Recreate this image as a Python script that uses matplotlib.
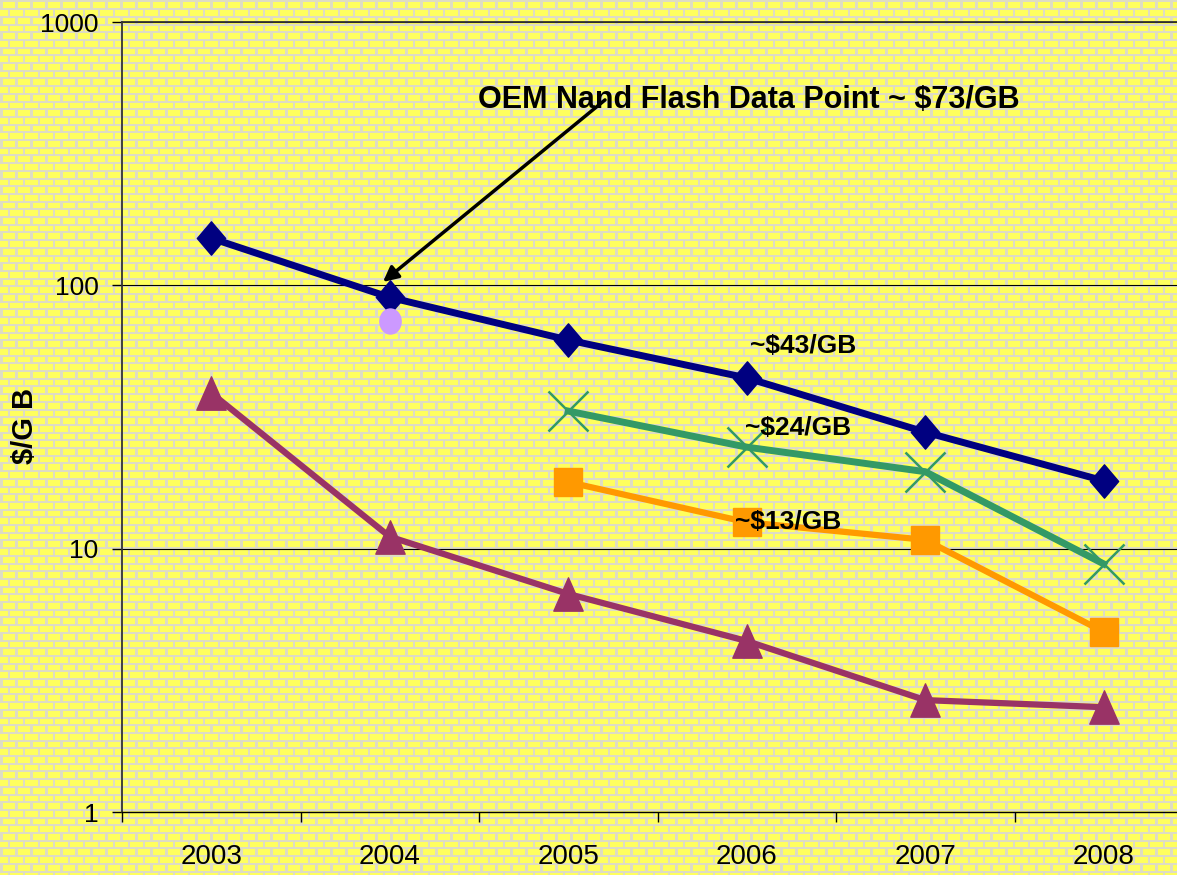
# Flash $/GB price trend chart, log scale, brick background.
import numpy as np
import matplotlib
matplotlib.use('Agg')
import matplotlib.pyplot as plt
from matplotlib.path import Path
from matplotlib.transforms import Affine2D

plt.rcParams['font.family'] = ['Liberation Sans', 'DejaVu Sans']

years = ['2003', '2004', '2005', '2006', '2007', '2008']
navy_vals = [151, 90, 62, 44.5, 27.7, 18.1]
green_vals = [None, None, 33.3, 24.3, 19.6, 8.75]
orange_vals = [None, None, 17.9, 12.6, 10.8, 4.83]
purple_vals = [39, 11.1, 6.73, 4.46, 2.66, 2.50]
oem_year = '2004'
oem_val = 73

y_ticks = [1, 10, 100, 1000]
y_ticklabels = ['1', '10', '100', '1000']

W, H, DPI = 1177, 875, 100


def brick_bg(w, h):
    # yellow bricks with grey mortar
    img = np.empty((h, w, 3))
    mortar = np.array([222, 220, 196]) / 255
    brick = np.array([255, 255, 94]) / 255
    img[:] = mortar
    rp, cp = 7.7, 15.0
    yy, xx = np.mgrid[0:h, 0:w]
    row = np.floor(yy / rp).astype(int)
    fy = yy - row * rp
    xs = xx + (row % 2) * cp / 2
    fx = xs - np.floor(xs / cp) * cp
    mask = (fy >= 2.0) & (fx >= 2.5)
    img[mask] = brick
    return img


fig = plt.figure(figsize=(W / DPI, H / DPI), dpi=DPI)
fig.figimage(brick_bg(W, H), xo=0, yo=0, origin='upper', zorder=0)

ax = fig.add_axes([122 / W, 1 - 812 / H, (1193 - 122) / W, (812 - 22) / H])
ax.set_zorder(2)
ax.set_facecolor('none')
ax.set_yscale('log')
ax.set_ylim(1, 1000)
ax.set_xlim(-0.5, len(years) - 0.5)

x = np.arange(len(years))


def series(vals):
    xs = [i for i, v in enumerate(vals) if v is not None]
    ys = [v for v in vals if v is not None]
    return xs, ys


diamond = Path([(0, 1), (0.85, 0), (0, -1), (-0.85, 0), (0, 1)],
               [Path.MOVETO, Path.LINETO, Path.LINETO, Path.LINETO, Path.CLOSEPOLY])
triangle = Path([(0, 1), (-0.88, -1), (0.88, -1), (0, 1)],
                [Path.MOVETO, Path.LINETO, Path.LINETO, Path.CLOSEPOLY])
ellipse = Path.unit_circle().transformed(Affine2D().scale(0.85, 1))

ax.plot(*series(purple_vals), color='#993366', lw=4.5, marker=triangle,
        ms=24, mec='#993366', mfc='#993366', zorder=4)
ax.plot(*series(orange_vals), color='#FF9900', lw=4.5, marker='s',
        ms=20, mec='#FF9900', mfc='#FF9900', zorder=4)
ax.plot(*series(green_vals), color='#339966', lw=5, marker='x',
        ms=29, mew=1.8, mec='#339966', zorder=4)
ax.plot(*series(navy_vals), color='#000080', lw=5, marker=diamond,
        ms=24, mec='#000080', mfc='#000080', zorder=5)
ax.plot([years.index(oem_year)], [oem_val], ls='none', marker=ellipse,
        ms=18, mec='#CC99FF', mfc='#CC99FF', zorder=6)

# axes styling
for s in ('top', 'right'):
    ax.spines[s].set_visible(False)
ax.spines['left'].set_color('#333333')
ax.spines['left'].set_linewidth(1.3)
ax.spines['bottom'].set_color('black')
ax.spines['bottom'].set_linewidth(1.0)

ax.set_yticks(y_ticks)
ax.set_yticklabels(y_ticklabels)
ax.yaxis.set_minor_locator(matplotlib.ticker.NullLocator())
ax.tick_params(axis='y', which='major', direction='out', length=7,
               width=1, labelsize=19, pad=10, color='black')
ax.grid(axis='y', which='major', color='black', lw=0.8, zorder=1)
ax.axhline(1000, color='#333333', lw=1.3, clip_on=False, zorder=2)

ax.set_xticks(np.arange(len(years) + 1) - 0.5)
ax.set_xticklabels([])
ax.set_xticks(x, minor=True)
ax.set_xticklabels(years, minor=True)
ax.tick_params(axis='x', which='major', direction='out', length=7, width=1)
ax.tick_params(axis='x', which='minor', length=0, labelsize=20, pad=23)

fig.text(25 / W, 1 - 426 / H, '$/G B', rotation=90, ha='center', va='center',
         fontsize=21, fontweight='bold')

# annotations
ax.annotate('', xy=(0.962, 103), xytext=(2.206, 506),
            arrowprops=dict(arrowstyle='-|>,head_length=0.9,head_width=0.45',
                            color='black', lw=2.5, shrinkA=0, shrinkB=0),
            zorder=7)
ax.text(3.013, 506, 'OEM Nand Flash Data Point ~ $73/GB', ha='center',
        va='center', fontsize=22, fontweight='bold', zorder=8)
ax.text(3.018, 58.9, '~$43/GB', ha='left', va='center', fontsize=19,
        fontweight='bold', zorder=8)
ax.text(2.990, 28.7, '~$24/GB', ha='left', va='center', fontsize=19,
        fontweight='bold', zorder=8)
ax.text(2.934, 12.6, '~$13/GB', ha='left', va='center', fontsize=19,
        fontweight='bold', zorder=8)

fig.savefig('out.png', dpi=DPI)
